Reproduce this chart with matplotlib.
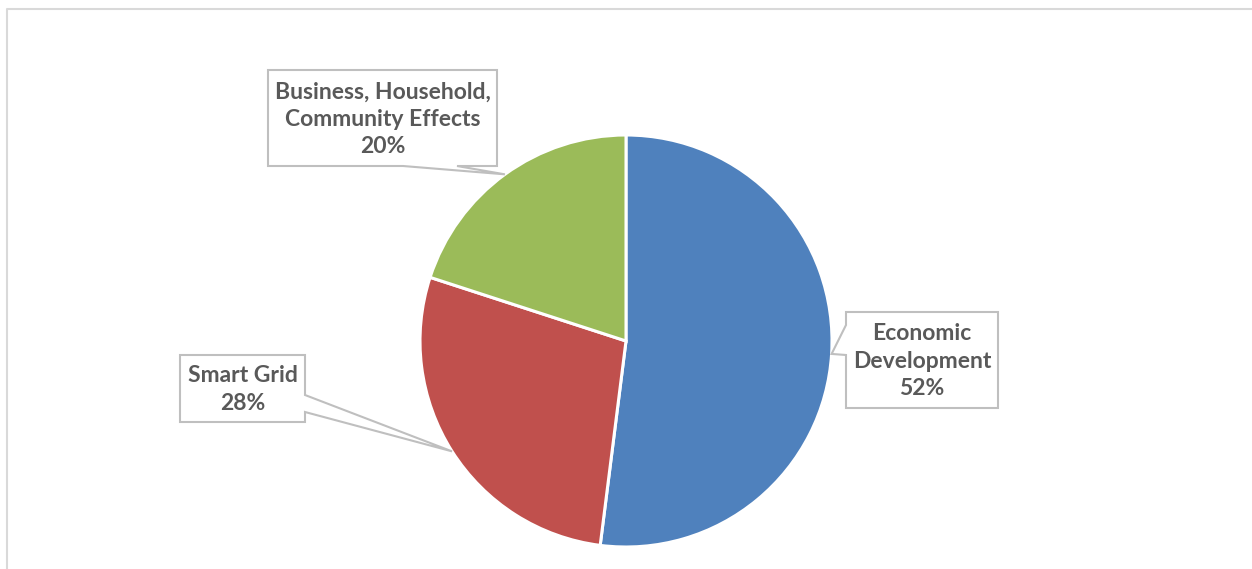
import numpy as np
import matplotlib.pyplot as plt
from matplotlib.patches import Polygon

# slices, clockwise from 12 o'clock
labels = ['Economic\nDevelopment', 'Smart Grid', 'Business, Household,\nCommunity Effects']
shares = [52, 28, 20]
colors = ['#4F81BD', '#C0504D', '#9BBB59']

W, H = 1252, 569
cx, cy, r = 626, H - 341, 206

fig = plt.figure(figsize=(W / 100, H / 100), dpi=100)
ax = fig.add_axes([0, 0, 1, 1])
wedges, _ = ax.pie(shares, colors=colors, startangle=90, counterclock=False,
                   center=(cx, cy), radius=r,
                   wedgeprops=dict(edgecolor='white', linewidth=2.2))
ax.set_xlim(0, W)
ax.set_ylim(0, H)
ax.set_aspect('equal')
ax.axis('off')

# chart frame (only top and left visible)
ax.plot([7, 7, W + 5], [-5, H - 9, H - 9], color='#D9D9D9', lw=1.5, clip_on=False)

# callout boxes: (x0, y0, x1, y1) in pixels from top, wedge side, wedge base positions
boxes = [
    (846, 312, 998, 408, 'left', (325, 355)),
    (180, 355, 305, 422, 'right', (395, 412)),
    (268, 70, 497, 166, 'bottom', (403, 457)),
]

txt_color = '#595959'
for w, lab, pct, (x0, y0, x1, y1, side, base) in zip(wedges, labels, shares, boxes):
    mid = np.deg2rad((w.theta1 + w.theta2) / 2)
    tip = (cx + r * np.cos(mid), cy + r * np.sin(mid))
    Y0, Y1 = H - y0, H - y1
    if side == 'left':
        pts = [(x0, Y0), (x1, Y0), (x1, Y1), (x0, Y1), (x0, H - base[1]), tip, (x0, H - base[0])]
    elif side == 'right':
        pts = [(x0, Y0), (x1, Y0), (x1, H - base[0]), tip, (x1, H - base[1]), (x1, Y1), (x0, Y1)]
    else:
        pts = [(x0, Y0), (x1, Y0), (x1, Y1), (base[1], Y1), tip, (base[0], Y1), (x0, Y1)]
    ax.add_patch(Polygon(pts, closed=True, facecolor='white', edgecolor='#BFBFBF',
                         lw=1.5, joinstyle='miter', zorder=3))
    ax.text((x0 + x1) / 2, H - (y0 + y1) / 2 - 1, f'{lab}\n{pct}%', ha='center', va='center',
            fontsize=16.5, fontweight='bold', color=txt_color, family=['Lato', 'DejaVu Sans'],
            linespacing=1.36, zorder=4)

fig.savefig('out.png', dpi=100)
